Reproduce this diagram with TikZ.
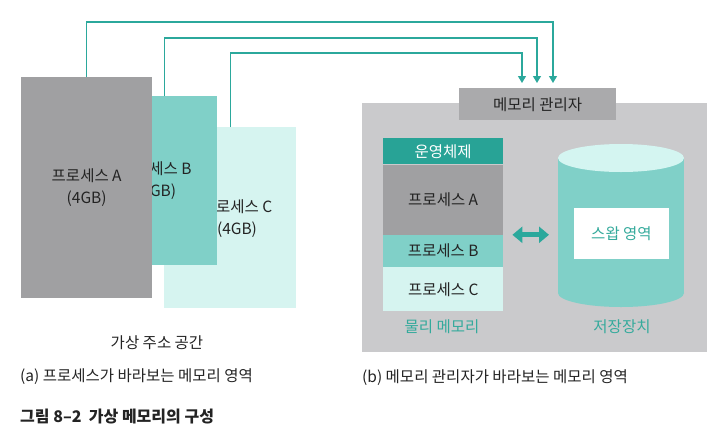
\documentclass[tikz,border=0pt]{standalone}
\usepackage{fontspec}
\setmainfont{Noto Sans CJK KR}
\usetikzlibrary{arrows.meta,positioning}
\definecolor{lineteal}{RGB}{43,168,156}
\definecolor{osteal}{RGB}{40,163,150}
\definecolor{midteal}{RGB}{128,208,200}
\definecolor{lightcyan}{RGB}{214,244,240}
\definecolor{topcyan}{RGB}{212,245,241}
\definecolor{procgray}{RGB}{160,160,162}
\definecolor{panelgray}{RGB}{202,202,204}
\definecolor{mmgray}{RGB}{170,170,172}
\definecolor{labelteal}{RGB}{52,170,156}
\definecolor{inkgray}{RGB}{35,35,35}

\begin{document}
\begin{tikzpicture}[x=1pt, y=-1pt,
  every node/.style={font=\fontsize{15.5}{22}\selectfont, inner sep=0pt, text=inkgray},
  vbox/.style={minimum width=#1, anchor=north west, align=center},
  mem/.style={minimum width=120pt},
  conn/.style={draw=lineteal, line width=1.2pt, -{Triangle[length=7pt,width=8pt]}, shorten >=5pt},
  swaparrow/.style={draw=lineteal, line width=5pt, {Triangle[length=10pt,width=16pt]}-{Triangle[length=10pt,width=16pt]}, shorten <=9pt, shorten >=9pt}]
\useasboundingbox (0,0) rectangle (724,445);

% virtual address spaces
\node[vbox=132pt, fill=lightcyan, minimum height=181pt] (vc) at (164,127) {};
\node (vctext) at (237,219) [align=center] {프로세스 C\\(4GB)};
\node[vbox=122pt, fill=midteal, minimum height=169pt] (vb) at (95,96) {프로세스 B\\(4GB)};
\node[vbox=131pt, fill=procgray, minimum height=221pt] (va) at (21,77) {프로세스 A\\(4GB)};

% memory manager side
\node[fill=panelgray, minimum width=345pt, minimum height=249pt, anchor=north west] (panel) at (362,103) {};
\node[fill=mmgray, minimum width=157pt, minimum height=32pt, anchor=north west] (mm) at (459,88) {메모리 관리자};

\node[mem, fill=osteal, text=white, minimum height=26pt, anchor=north west] (os) at (383,138) {운영체제};
\node[mem, fill=procgray, minimum height=70pt, below=0pt of os] (ma) {프로세스 A};
\node[mem, fill=midteal, minimum height=32pt, below=0pt of ma] (mb) {프로세스 B};
\node[mem, fill=lightcyan, minimum height=44pt, below=0pt of mb] (mc) {프로세스 C};

\fill[midteal] (558,158) rectangle (684,293);
\fill[midteal] (621,293) ellipse [x radius=63, y radius=14];
\fill[topcyan] (621,158) ellipse [x radius=63, y radius=14];
\node[fill=white, minimum width=95pt, minimum height=51pt, text=labelteal] (swap) at (621.5,233.5) {스왑 영역};
\coordinate (disk) at (558,234);

\draw[swaparrow] (ma.south east) -- (ma.south east -| disk);

\node[text=labelteal] (phys) at (442,327) {물리 메모리};
\node[text=labelteal] (stor) at (622,327) {저장장치};

% connectors
\coordinate (ka) at (553,22);
\coordinate (kb) at (537,38);
\coordinate (kc) at (522,53);
\draw[conn] (va.north) |- (ka) -- (ka |- mm.north);
\draw[conn] ([xshift=8pt]vb.north) |- (kb) -- (kb |- mm.north);
\draw[conn] (vc.north) |- (kc) -- (kc |- mm.north);

% captions
\node (vas) at (157,343) {가상 주소 공간};
\node[anchor=west] (capa) at (20,377) {(a) 프로세스가 바라보는 메모리 영역};
\node[anchor=west] (capb) at (362,378) {(b) 메모리 관리자가 바라보는 메모리 영역};
\node[anchor=west, font=\fontsize{16}{22}\selectfont\bfseries] (fig) at (20,417) {그림 8--2\ \ 가상 메모리의 구성};
\end{tikzpicture}
\end{document}
